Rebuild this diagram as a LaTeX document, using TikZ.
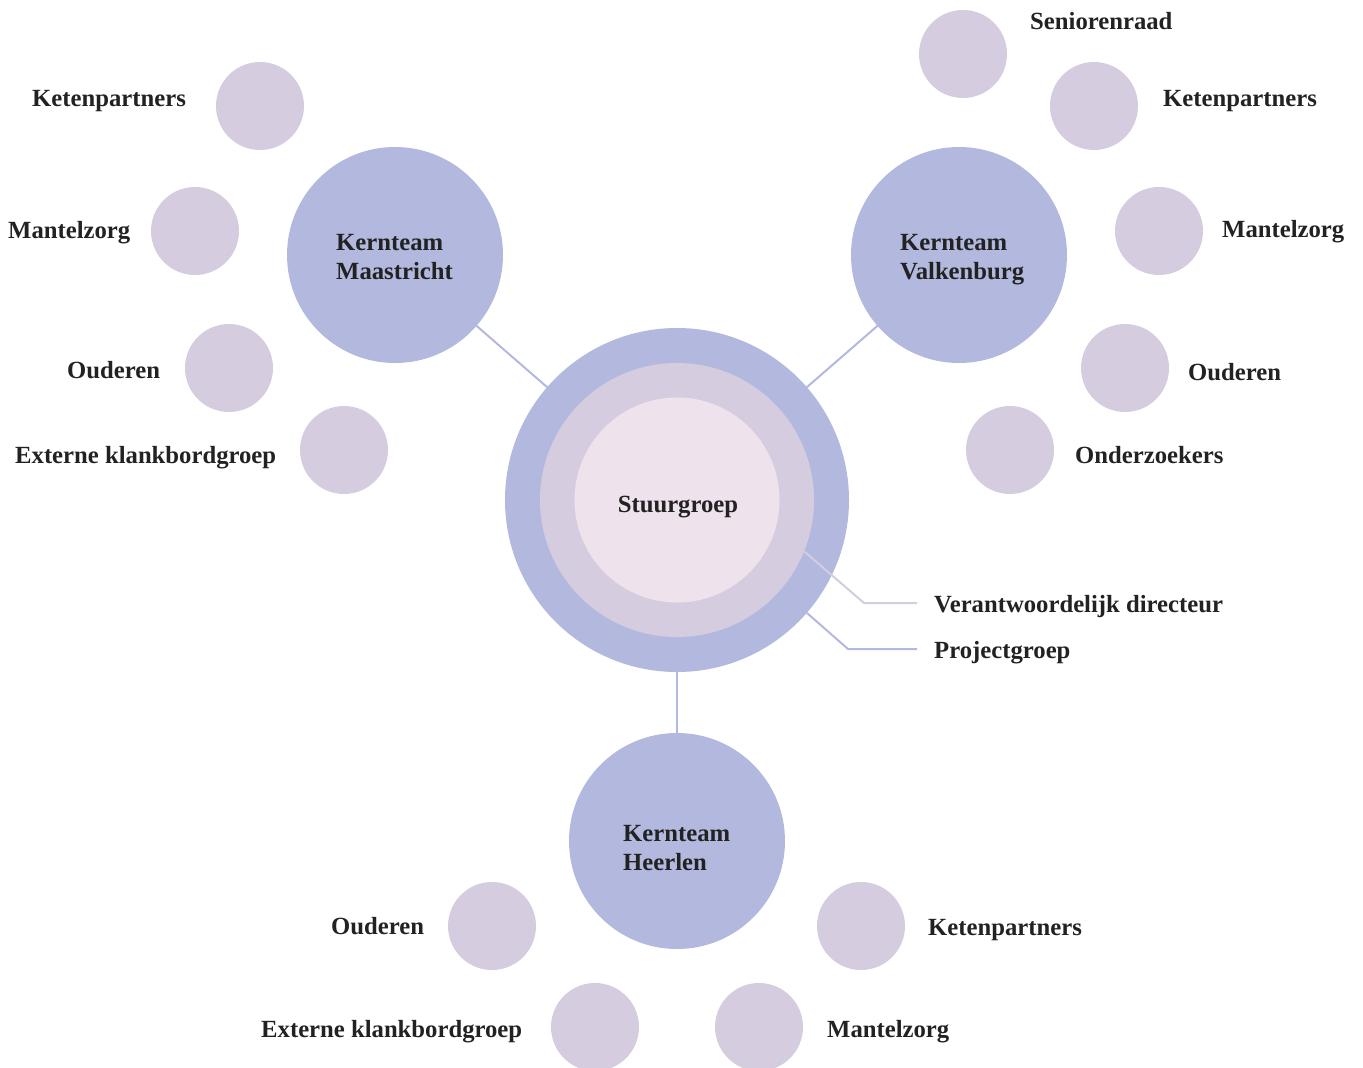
\documentclass[tikz,border=0pt]{standalone}
\usepackage{fontspec}
\setmainfont{Liberation Serif}
\usetikzlibrary{backgrounds}
\definecolor{kblue}{HTML}{B3B9DE}
\definecolor{klil}{HTML}{D5CCE0}
\definecolor{kpale}{HTML}{EEE3EC}
\definecolor{ktext}{HTML}{222222}
\begin{document}
\begin{tikzpicture}[x=1pt,y=-1pt,
  lbl/.style={inner sep=0pt, anchor=base west, font=\fontsize{24.7}{29}\selectfont\bfseries, text=ktext, align=left},
  small/.style={circle, fill=klil, minimum size=88pt, inner sep=0pt},
  team/.style={circle, fill=kblue, minimum size=216pt, inner sep=0pt},
  link/.style={line width=2pt, draw=kblue},
  linkl/.style={line width=2pt, draw=klil}]
\useasboundingbox (0,0) rectangle (1363,1068);
% central
\node[circle, fill=kblue, minimum size=344pt, inner sep=0pt] (sOuter) at (677,500) {};
\node[circle, fill=klil, minimum size=274pt, inner sep=0pt] (sMid) at (677,500) {};
\node[circle, fill=kpale, minimum size=205pt, inner sep=0pt] (sIn) at (677,500) {};
\node[lbl, anchor=base] (tS) at (678,512) {Stuurgroep};
% teams
\node[team] (M) at (395,255) {};
\node[team] (V) at (959,255) {};
\node[team] (H) at (677,841) {};
\node[lbl] (tM) at (336,279) {Kernteam\\Maastricht};
\node[lbl] (tV) at (900,279) {Kernteam\\Valkenburg};
\node[lbl] (tH) at (623,870) {Kernteam\\Heerlen};
% connectors to stuurgroep
\begin{scope}[on background layer]
\draw[link] (M.center) -- (sOuter.center);
\draw[link] (V.center) -- (sOuter.center);
\draw[link] (H.center) -- (sOuter.center);
\end{scope}
% small circles Maastricht
\node[small] (m1) at (260,106) {};
\node[small] (m2) at (195,231) {};
\node[small] (m3) at (229,368) {};
\node[small] (m4) at (344,450) {};
\node[lbl] (lm1) at (32,106) {Ketenpartners};
\node[lbl] (lm2) at (8,238) {Mantelzorg};
\node[lbl] (lm3) at (67,378) {Ouderen};
\node[lbl] (lm4) at (15,463) {Externe klankbordgroep};
% small circles Valkenburg
\node[small] (v1) at (963,54) {};
\node[small] (v2) at (1094,106) {};
\node[small] (v3) at (1159,231) {};
\node[small] (v4) at (1125,368) {};
\node[small] (v5) at (1010,450) {};
\node[lbl] (lv1) at (1030,29) {Seniorenraad};
\node[lbl] (lv2) at (1163,106) {Ketenpartners};
\node[lbl] (lv3) at (1222,237) {Mantelzorg};
\node[lbl] (lv4) at (1188,380) {Ouderen};
\node[lbl] (lv5) at (1075,463) {Onderzoekers};
% small circles Heerlen
\node[small] (h1) at (492,926) {};
\node[small] (h2) at (595,1027) {};
\node[small] (h3) at (861,926) {};
\node[small] (h4) at (759,1027) {};
\node[lbl] (lh1) at (331,934) {Ouderen};
\node[lbl] (lh2) at (261,1037) {Externe klankbordgroep};
\node[lbl] (lh3) at (928,935) {Ketenpartners};
\node[lbl] (lh4) at (827,1037) {Mantelzorg};
% callouts
\node[lbl] (lD) at (934,612) {Verantwoordelijk directeur};
\node[lbl] (lP) at (934,658) {Projectgroep};
\coordinate (dBend) at (864,603);
\coordinate (dEnd) at (917,603);
\coordinate (pBend) at (848,649);
\coordinate (pEnd) at (917,649);
\draw[linkl] (sMid.-22.5) -- (dBend) -- (dEnd);
\draw[link] (sOuter.-41) -- (pBend) -- (pEnd);
\end{tikzpicture}
\end{document}
